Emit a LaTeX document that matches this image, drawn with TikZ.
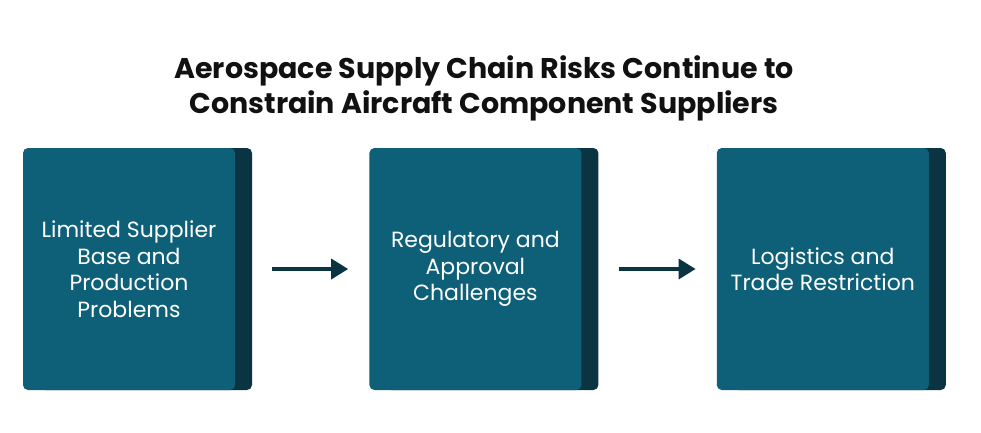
\documentclass[tikz,border=0pt]{standalone}
\usepackage{fontspec}
\setmainfont{Poppins}
\usetikzlibrary{
  arrows.meta,
  positioning,
  shadows
}
\definecolor{scteal}{HTML}{0E5F78}
\definecolor{scdark}{HTML}{0B3443}
\definecolor{scink}{HTML}{111111}

\begin{document}
\begin{tikzpicture}[x=1pt, y=1pt,
      riskbox/.style={
        rectangle, rounded corners=5pt,
        minimum width=212pt, minimum height=242pt,
        fill=scteal, draw=none,
        copy shadow={shadow xshift=17pt, shadow yshift=0pt, fill=scdark, draw=none},
        font=\fontsize{22}{26.5}\selectfont\color{white}, align=center
      },
      arrow/.style={-{Triangle[length=17pt, width=20pt]}, line width=3.5pt, scdark},
      title/.style={font=\fontsize{28.5}{35}\selectfont\bfseries\color{scink}, align=center}
    ]
      \useasboundingbox (0,0) rectangle (981,-432);

      \node[title] (head) at (484,-88) {Aerospace Supply Chain Risks Continue to\\Constrain Aircraft Component Suppliers};

      \node[riskbox] (supply) at (129,-269) {Limited Supplier\\Base and\\Production\\Problems};
      \node[riskbox, right=134pt of supply] (approval) {Regulatory and\\Approval\\Challenges};
      \node[riskbox, right=135pt of approval] (trade) {Logistics and\\Trade Restriction};

      \draw[arrow, shorten <=37pt, shorten >=21pt] (supply) -- (approval);
      \draw[arrow, shorten <=37pt, shorten >=21pt] (approval) -- (trade);
    \end{tikzpicture}
\end{document}
